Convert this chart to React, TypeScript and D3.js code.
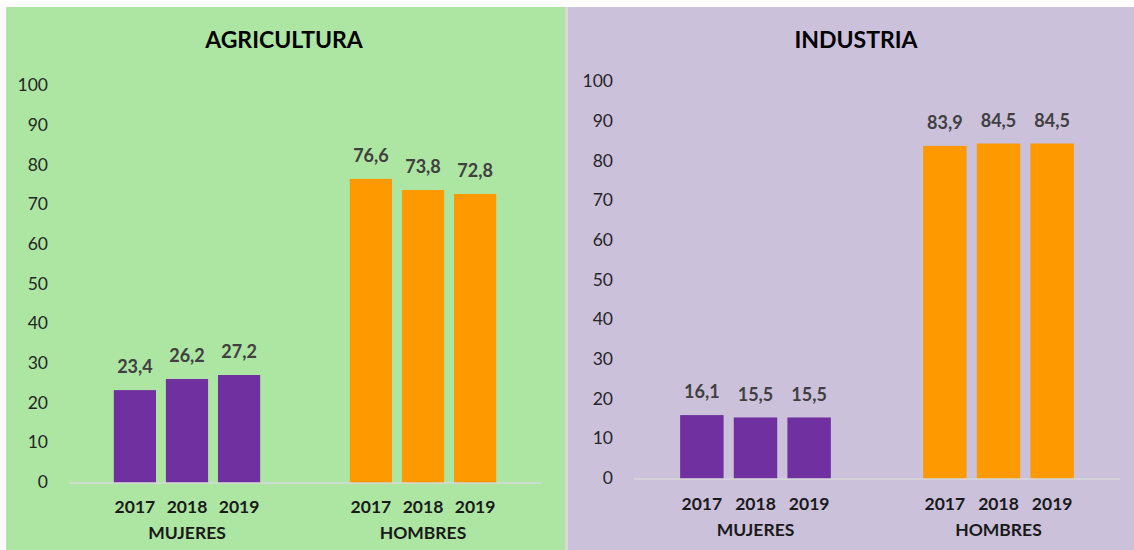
import React from "react";
import * as d3 from "d3";

const sectors = ["AGRICULTURA", "INDUSTRIA"];
const groups = ["MUJERES", "HOMBRES"];
const years = ["2017", "2018", "2019"];
const agriMujeres = [23.4, 26.2, 27.2];
const agriHombres = [76.6, 73.8, 72.8];
const indMujeres = [16.1, 15.5, 15.5];
const indHombres = [83.9, 84.5, 84.5];
const yTicks = [0, 10, 20, 30, 40, 50, 60, 70, 80, 90, 100];

const FONT = "Lato, 'Open Sans', sans-serif";
const groupColors = ["#7030a0", "#ff9900"];

type PanelProps = {
  title: string;
  data: number[][];
  x0: number;
  width: number;
  bg: string;
  titleX: number;
  axisX0: number;
  axisX1: number;
  baseY: number;
  topY: number;
  tickLabelX: number;
  yearY: number;
  groupY: number;
};

function Panel(p: PanelProps) {
  const y = d3.scaleLinear().domain([0, 100]).range([p.baseY, p.topY]);
  const xg = d3.scaleBand<string>().domain(groups).range([p.axisX0, p.axisX1]);
  const xy = d3
    .scaleBand<string>()
    .domain(years)
    .range([0, xg.bandwidth()])
    .paddingInner(0.19)
    .paddingOuter(0.86);
  const fmt = (v: number) => v.toFixed(1).replace(".", ",");
  return (
    <g>
      <rect x={p.x0} y={7} width={p.width} height={543} fill={p.bg} />
      <text
        x={p.titleX}
        y={40}
        dy="0.35em"
        textAnchor="middle"
        fontFamily={FONT}
        fontWeight={700}
        fontSize={23}
        fill="#000"
      >
        {p.title}
      </text>
      {yTicks.map((t) => (
        <text
          key={t}
          x={p.tickLabelX}
          y={y(t) - 1}
          dy="0.35em"
          textAnchor="end"
          fontFamily={FONT}
          fontSize={17.5}
          fill="#262626"
        >
          {t}
        </text>
      ))}
      {groups.map((g, gi) => (
        <g key={g} transform={`translate(${xg(g)},0)`}>
          {years.map((yr, i) => {
            const v = p.data[gi][i];
            const bx = xy(yr)!;
            return (
              <g key={yr}>
                <rect
                  x={bx}
                  y={y(v)}
                  width={xy.bandwidth()}
                  height={y(0) - y(v)}
                  fill={groupColors[gi]}
                />
                <text
                  x={bx + xy.bandwidth() / 2}
                  y={y(v) - 23}
                  dy="0.35em"
                  textAnchor="middle"
                  fontFamily={FONT}
                  fontWeight={700}
                  fontSize={18}
                  fill="#404040"
                >
                  {fmt(v)}
                </text>
                <text
                  x={bx + xy.bandwidth() / 2}
                  y={p.yearY}
                  dy="0.35em"
                  textAnchor="middle"
                  fontFamily={FONT}
                  fontWeight={700}
                  fontSize={17.5}
                  fill="#1a1a1a"
                >
                  {yr}
                </text>
              </g>
            );
          })}
          <text
            x={xg.bandwidth() / 2}
            y={p.groupY}
            dy="0.35em"
            textAnchor="middle"
            fontFamily={FONT}
            fontWeight={700}
            fontSize={17.5}
            fill="#1a1a1a"
          >
            {g}
          </text>
        </g>
      ))}
      <line
        x1={p.axisX0}
        x2={p.axisX1}
        y1={y(0)}
        y2={y(0)}
        stroke="#d9d9d9"
        strokeWidth={1.5}
      />
    </g>
  );
}

export default function App() {
  return (
    <svg
      width={1134}
      height={550}
      style={{ position: "absolute", left: 0, top: 0, background: "#fff" }}
    >
      <Panel
        title={sectors[0]}
        data={[agriMujeres, agriHombres]}
        x0={6}
        width={559}
        bg="#ade5a3"
        titleX={284}
        axisX0={69}
        axisX1={541}
        baseY={483}
        topY={86}
        tickLabelX={48}
        yearY={507}
        groupY={533}
      />
      <rect x={565} y={7} width={3} height={543} fill="#d9d9d9" />
      <Panel
        title={sectors[1]}
        data={[indMujeres, indHombres]}
        x0={568}
        width={566}
        bg="#cbc1db"
        titleX={856}
        axisX0={634}
        axisX1={1120}
        baseY={479}
        topY={82}
        tickLabelX={613}
        yearY={504}
        groupY={530}
      />
    </svg>
  );
}
